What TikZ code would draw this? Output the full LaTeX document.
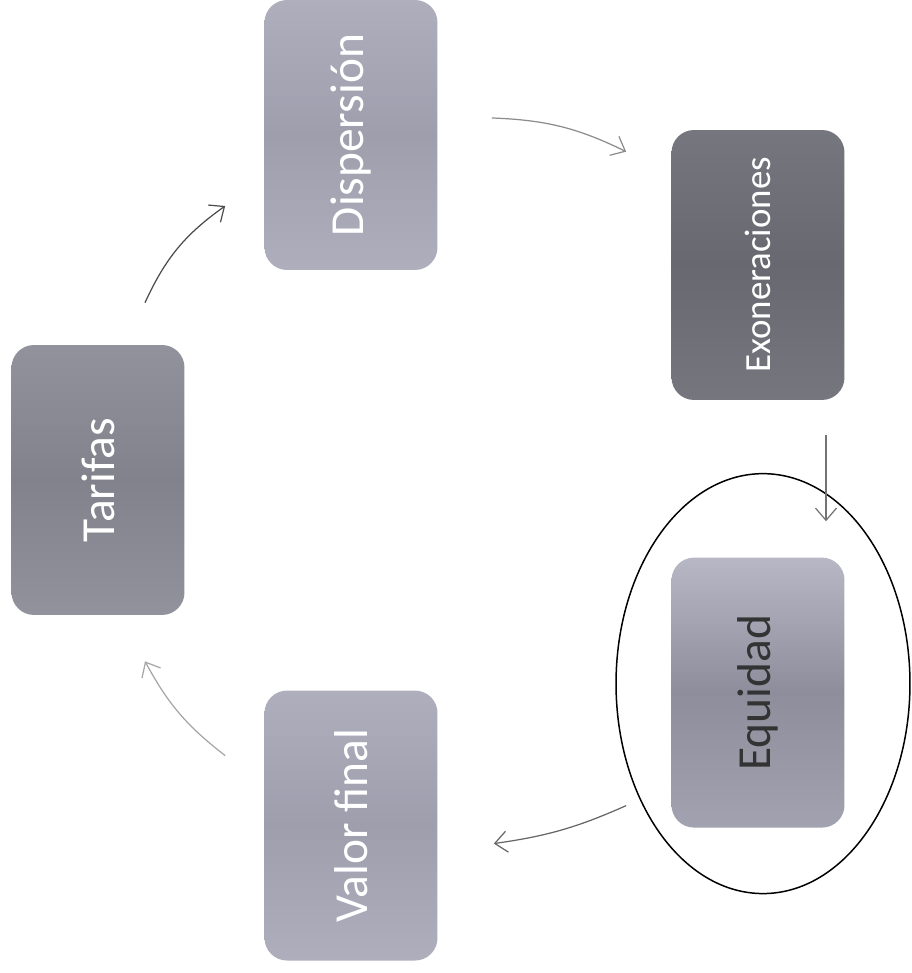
\documentclass[tikz,border=0pt]{standalone}
\usepackage{fontspec}
\setmainfont{Carlito}
\usetikzlibrary{arrows.meta, calc, positioning}
\definecolor{lavlight}{HTML}{AEAEBD}
\definecolor{lavmid}{HTML}{9E9EAD}
\definecolor{lavtop}{HTML}{B7B7C6}
\definecolor{lavdark}{HTML}{8D8D9B}
\definecolor{lavbot}{HTML}{A2A2B1}
\definecolor{greytop}{HTML}{92929C}
\definecolor{greymid}{HTML}{82828C}
\definecolor{darktop}{HTML}{76767E}
\definecolor{darkmid}{HTML}{686870}
\tikzstyle{stage} = [rectangle, rounded corners=0.45cm, minimum width=3.46cm, minimum height=5.4cm, text centered, font=\fontsize{27}{32}\selectfont, text=white]
\tikzstyle{arrow} = [line width=0.7pt, -{Straight Barb[length=7pt,width=12pt]}]

\begin{document}
\begin{tikzpicture}[x=0.02cm, y=0.02cm]
\useasboundingbox (0,0) rectangle (912,973);
\node (disp) [stage, top color=lavlight, bottom color=lavlight, middle color=lavmid] at (351,838) {\rotatebox{90}{Dispersión}};
\node (exon) [stage, top color=darktop, bottom color=darktop, middle color=darkmid, font=\fontsize{21}{26}\selectfont] at (758,708) {\rotatebox{90}{Exoneraciones}};
\node (tarifas) [stage, top color=greytop, bottom color=greytop, middle color=greymid] at (98,493) {\rotatebox{90}{Tarifas}};
\node (equidad) [stage, below=3.14cm of exon, top color=lavtop, bottom color=lavbot, middle color=lavdark, text=black!80] {\rotatebox{90}{Equidad}};
\node (valor) [stage, below=8.4cm of disp, top color=lavlight, bottom color=lavlight, middle color=lavmid] {\rotatebox{90}{Valor final}};
\draw [line width=0.85pt] ($(equidad)+(5,9)$) ellipse [x radius=2.94cm, y radius=4.2cm];
\draw [arrow, draw=black!70] ($(tarifas.north)+(47,42)$) to[bend left=15] ($(disp.west)+(-39,-71)$);
\draw [arrow, draw=black!45] ($(disp.east)+(54,17)$) to[bend left=12] ($(exon.north west)+(-45,-22)$);
\draw [arrow, draw=black!55] ($(exon.south)+(68,-35)$) -- ($(equidad.north)+(68,36)$);
\draw [arrow, draw=black!60] ($(equidad.west)+(-45,-113)$) to[bend left=8] ($(valor.east)+(56,-18)$);
\draw [arrow, draw=black!35] ($(valor.west)+(-39,70)$) to[bend left=12] ($(tarifas.south)+(47,-46)$);
\end{tikzpicture}
\end{document}
